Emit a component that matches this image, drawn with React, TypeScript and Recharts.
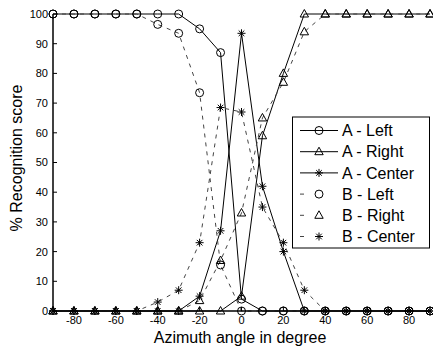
import React from 'react';
import { LineChart, Line, XAxis, YAxis } from 'recharts';

// azimuth angles (degrees) and recognition scores (%)
const angles = [-90, -80, -70, -60, -50, -40, -30, -20, -10, 0, 10, 20, 30, 40, 50, 60, 70, 80, 90];
const aLeft = [100, 100, 100, 100, 100, 100, 100, 95, 87, 4, 0, 0, 0, 0, 0, 0, 0, 0, 0];
const aRight = [0, 0, 0, 0, 0, 0, 0, 0, 0, 5, 59, 80, 100, 100, 100, 100, 100, 100, 100];
const aCenter = [0, 0, 0, 0, 0, 0, 0, 5, 27, 93.5, 42, 20, 0, 0, 0, 0, 0, 0, 0];
const bLeft = [100, 100, 100, 100, 100, 96.5, 93.5, 73.5, 15.5, 0, 0, 0, 0, 0, 0, 0, 0, 0, 0];
const bRight = [0, 0, 0, 0, 0, 0, 0, 3.5, 17, 33, 65, 77, 94, 100, 100, 100, 100, 100, 100];
const bCenter = [0, 0, 0, 0, 0, 3, 7, 23, 68.5, 67, 35, 23, 7, 0, 0, 0, 0, 0, 0];

const xTicks = [-80, -60, -40, -20, 0, 20, 40, 60, 80];
const yTicks = [0, 10, 20, 30, 40, 50, 60, 70, 80, 90, 100];

const data = angles.map((angle, i) => ({
  angle,
  aLeft: aLeft[i],
  aRight: aRight[i],
  aCenter: aCenter[i],
  bLeft: bLeft[i],
  bRight: bRight[i],
  bCenter: bCenter[i],
}));

const FONT = '"Liberation Sans", Arial, Helvetica, sans-serif';

const drawMarker = (shape: string, cx: number, cy: number) => {
  if (shape === 'circle') {
    return <circle cx={cx} cy={cy} r={4} fill="none" stroke="#000" strokeWidth={1} />;
  }
  if (shape === 'triangle') {
    return (
      <polygon
        points={`${cx},${cy - 4.5} ${cx + 4.2},${cy + 3} ${cx - 4.2},${cy + 3}`}
        fill="none"
        stroke="#000"
        strokeWidth={1}
      />
    );
  }
  const d = 2.8;
  return (
    <g stroke="#000" strokeWidth={1}>
      <line x1={cx} y1={cy - 4} x2={cx} y2={cy + 4} />
      <line x1={cx - 4} y1={cy} x2={cx + 4} y2={cy} />
      <line x1={cx - d} y1={cy - d} x2={cx + d} y2={cy + d} />
      <line x1={cx - d} y1={cy + d} x2={cx + d} y2={cy - d} />
    </g>
  );
};

const makeDot = (shape: string) => (props: any) => {
  const { cx, cy, index } = props;
  if (cx == null || cy == null) return <g key={`d-${index}`} />;
  return <g key={`d-${index}`}>{drawMarker(shape, cx, cy)}</g>;
};

const series = [
  { key: 'aLeft', name: 'A - Left', shape: 'circle', dashed: false },
  { key: 'aRight', name: 'A - Right', shape: 'triangle', dashed: false },
  { key: 'aCenter', name: 'A - Center', shape: 'star', dashed: false },
  { key: 'bLeft', name: 'B - Left', shape: 'circle', dashed: true },
  { key: 'bRight', name: 'B - Right', shape: 'triangle', dashed: true },
  { key: 'bCenter', name: 'B - Center', shape: 'star', dashed: true },
];

export default function App() {
  return (
    <div style={{ position: 'absolute', left: 0, top: 0, width: 433, height: 348, background: '#fff' }}>
      <LineChart width={433} height={348} data={data} margin={{ top: 14, right: 3, bottom: 7, left: 0 }}>
        <XAxis
          dataKey="angle"
          type="number"
          domain={[-90, 90]}
          ticks={xTicks}
          interval={0}
          height={30}
          tickSize={-4}
          tickMargin={9}
          axisLine={{ stroke: '#000', strokeWidth: 1.5 }}
          tickLine={{ stroke: '#000' }}
          tick={{ fill: '#000', fontSize: 11, fontFamily: FONT }}
        />
        <XAxis
          xAxisId="top"
          orientation="top"
          type="number"
          domain={[-90, 90]}
          ticks={xTicks}
          interval={0}
          height={0}
          tickSize={-4}
          tick={false}
          axisLine={{ stroke: '#000' }}
          tickLine={{ stroke: '#000' }}
        />
        <YAxis
          type="number"
          domain={[0, 100]}
          ticks={yTicks}
          interval={0}
          width={53}
          tickSize={-4}
          tickMargin={9}
          axisLine={{ stroke: '#000', strokeWidth: 1.5 }}
          tickLine={{ stroke: '#000' }}
          tick={{ fill: '#000', fontSize: 11, fontFamily: FONT }}
        />
        <YAxis
          yAxisId="right"
          orientation="right"
          type="number"
          domain={[0, 100]}
          ticks={yTicks}
          interval={0}
          width={0}
          tickSize={-4}
          tick={false}
          axisLine={{ stroke: '#000' }}
          tickLine={{ stroke: '#000' }}
        />
        {series.map((s) => (
          <Line
            key={s.key}
            dataKey={s.key}
            name={s.name}
            type="linear"
            stroke={s.dashed ? '#444' : '#000'}
            strokeWidth={1}
            strokeDasharray={s.dashed ? '4 5' : undefined}
            dot={makeDot(s.shape)}
            activeDot={false}
            isAnimationActive={false}
          />
        ))}
      </LineChart>
      <svg
        width={433}
        height={348}
        style={{ position: 'absolute', left: 0, top: 0, pointerEvents: 'none' }}
        fontFamily={FONT}
      >
        <text x={240} y={343} textAnchor="middle" fontSize={16} fill="#000">
          Azimuth angle in degree
        </text>
        <text transform="translate(22,158) rotate(-90)" textAnchor="middle" fontSize={16} fill="#000">
          % Recognition score
        </text>
        <rect x={292.5} y={117} width={137} height={131} fill="#fff" stroke="#000" strokeWidth={1} />
        {series.map((s, i) => {
          const cy = 130.5 + i * 21.2;
          return (
            <g key={s.key}>
              {s.dashed ? (
                <line x1={300} y1={cy} x2={304} y2={cy} stroke="#444" strokeWidth={1} />
              ) : (
                <line x1={300} y1={cy} x2={338} y2={cy} stroke="#000" strokeWidth={1} />
              )}
              {drawMarker(s.shape, 319, cy)}
              <text x={342} y={cy + 5.7} fontSize={16} fill="#000">
                {s.name}
              </text>
            </g>
          );
        })}
      </svg>
    </div>
  );
}
